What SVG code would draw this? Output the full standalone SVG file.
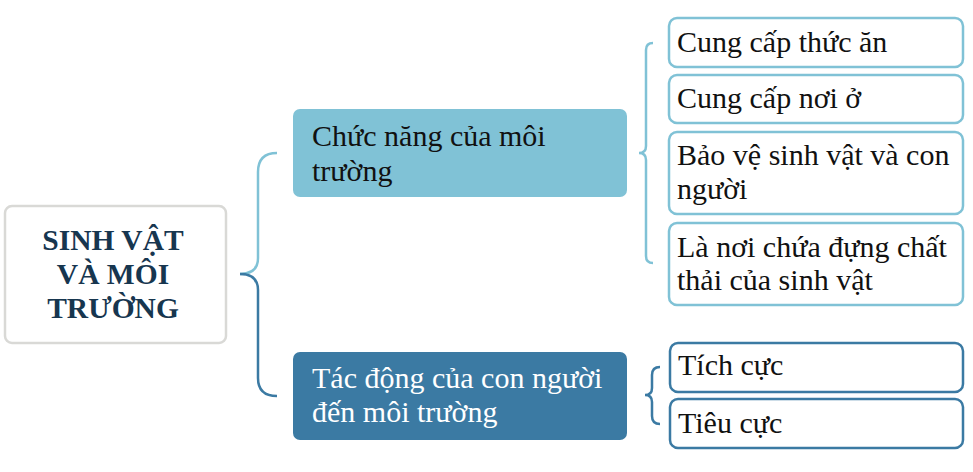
<svg xmlns="http://www.w3.org/2000/svg" width="973" height="472" viewBox="0 0 973 472">
<style>
.t{font-family:"Liberation Serif","Times New Roman",serif;font-size:30px;fill:#111111}
.w{fill:#ffffff}
.root{font-family:"Liberation Serif","Times New Roman",serif;font-size:29.5px;font-weight:bold;fill:#17364f}
.lb{fill:#ffffff;stroke:#80c2d6;stroke-width:2.5}
.db{fill:#ffffff;stroke:#3b7aa3;stroke-width:2.5}
.bl{fill:none;stroke:#80c2d6;stroke-width:2.5}
.bd{fill:none;stroke:#3b7aa3;stroke-width:2.5}
</style>
<rect width="973" height="472" fill="#ffffff"/>
<g id="connectors">
<path class="bl" d="M277,153 Q258,153 258,172 L258,258 Q258,274 240,274"/>
<path class="bd" d="M240,274 Q258,274 258,290 L258,378 Q258,396 277,396"/>
<path class="bl" d="M653,43 Q646,43 646,50 L646,146 Q646,153 639,153 Q646,153 646,160 L646,256 Q646,263 653,263"/>
<path class="bd" d="M660,367 Q652,367 652,375 L652,388 Q652,395 645,395 Q652,395 652,402 L652,416 Q652,424 660,424"/>
</g>
<g id="root">
<rect x="5" y="206" width="221" height="137" rx="7" fill="#ffffff" stroke="#d9d9d6" stroke-width="2.5"/>
<text class="root" text-anchor="middle" x="113" y="250">SINH VẬT</text>
<text class="root" text-anchor="middle" x="113" y="284">VÀ MÔI</text>
<text class="root" text-anchor="middle" x="113" y="318">TRƯỜNG</text>
</g>
<g id="chuc-nang">
<rect x="293" y="109" width="334" height="88" rx="7" fill="#80c2d6"/>
<text class="t" x="312" y="146">Chức năng của môi</text>
<text class="t" x="312" y="181">trường</text>
</g>
<g id="tac-dong">
<rect x="293" y="352" width="334" height="88" rx="7" fill="#3b7aa3"/>
<text class="t w" x="312" y="388">Tác động của con người</text>
<text class="t w" x="312" y="422">đến môi trường</text>
</g>
<g id="thuc-an">
<rect class="lb" x="669" y="18" width="294" height="49" rx="8"/>
<text class="t" x="677" y="52">Cung cấp thức ăn</text>
</g>
<g id="noi-o">
<rect class="lb" x="669" y="75" width="294" height="48" rx="8"/>
<text class="t" x="677" y="108">Cung cấp nơi ở</text>
</g>
<g id="bao-ve">
<rect class="lb" x="669" y="132" width="294" height="82" rx="8"/>
<text class="t" x="677" y="165">Bảo vệ sinh vật và con</text>
<text class="t" x="677" y="199">người</text>
</g>
<g id="chat-thai">
<rect class="lb" x="669" y="223" width="294" height="82" rx="8"/>
<text class="t" x="677" y="257">Là nơi chứa đựng chất</text>
<text class="t" x="677" y="290">thải của sinh vật</text>
</g>
<g id="tich-cuc">
<rect class="db" x="670" y="343" width="293" height="49" rx="8"/>
<text class="t" x="678" y="375">Tích cực</text>
</g>
<g id="tieu-cuc">
<rect class="db" x="670" y="399" width="293" height="49" rx="8"/>
<text class="t" x="678" y="433">Tiêu cực</text>
</g>
</svg>
